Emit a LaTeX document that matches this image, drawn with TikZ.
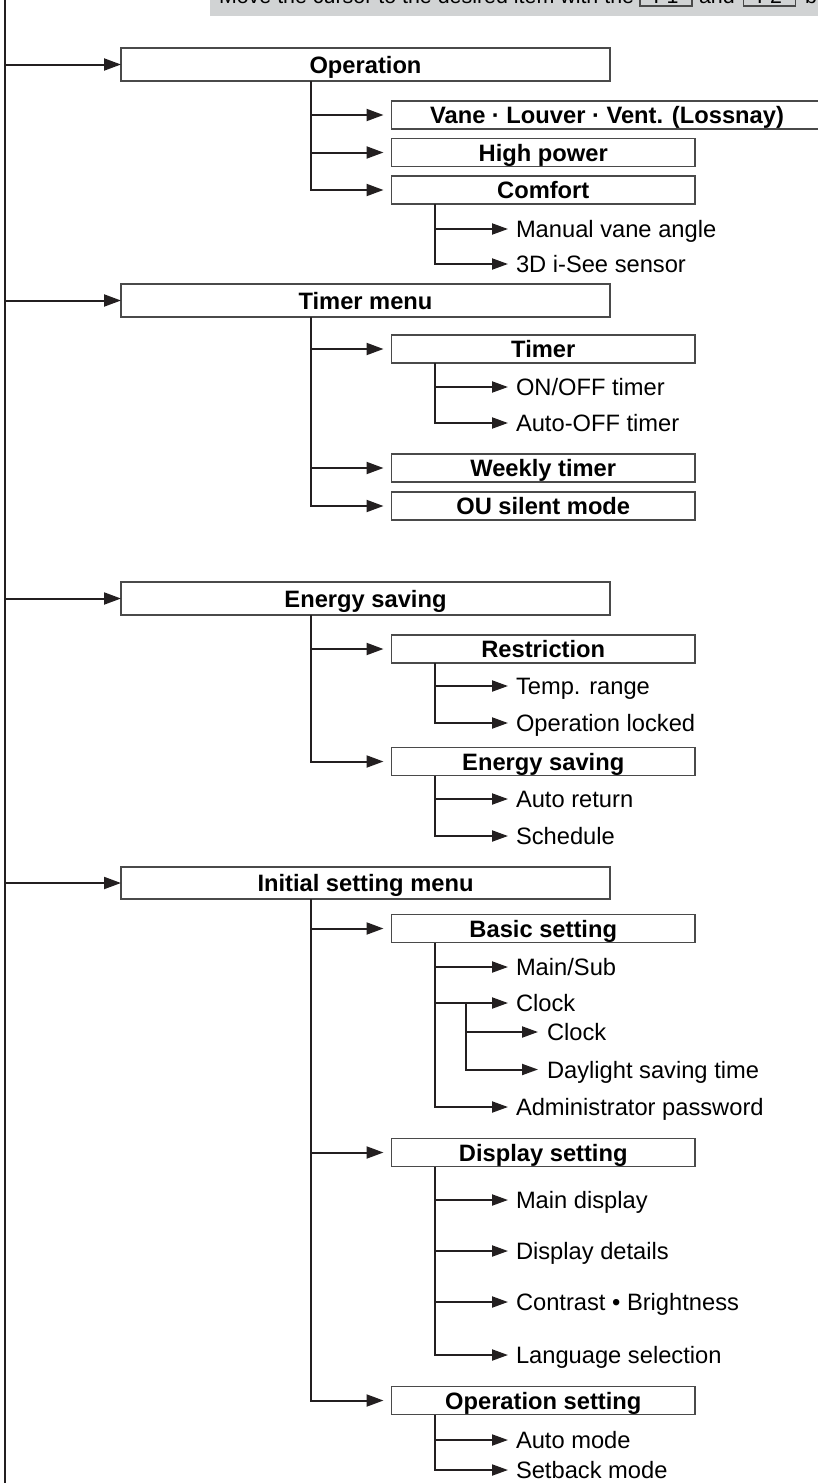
\documentclass[tikz,border=0pt]{standalone}
\usepackage{fontspec}
\setmainfont{Liberation Sans}
\usetikzlibrary{arrows.meta}
\definecolor{ink}{HTML}{231F20}
\definecolor{boxline}{HTML}{4A4A4A}
\definecolor{band}{HTML}{D1D3D4}
\tikzset{
  every node/.style={inner sep=0pt, outer sep=0pt},
  bigfont/.style={font=\fontsize{23.7}{28}\selectfont},
  lbox/.style={draw=boxline, line width=1.3pt, fill=white, minimum width=489pt,
    minimum height=33pt, text height=17pt, text depth=0pt,
    font=\fontsize{23.7}{28}\selectfont\bfseries, anchor=north west},
  sbox/.style={lbox, minimum width=303.5pt, minimum height=28pt},
  item/.style={anchor=west, text height=17pt, text depth=0pt, bigfont},
  conn/.style={draw=ink, line width=2pt},
  arr/.style={conn, -{Triangle[length=17pt,width=12pt]}},
  arrb/.style={arr, shorten >=8pt},
  arrc/.style={conn, -{Triangle[length=16pt,width=11pt]}, shorten >=8pt},
  arrd/.style={conn, -{Triangle[length=16pt,width=11pt]}, shorten >=9pt},
  keybox/.style={draw=boxline, line width=1.2pt, minimum width=52pt, minimum height=17.5pt,
    anchor=south west, text height=15pt, text depth=2.5pt, font=\fontsize{21.4}{26}\selectfont},
  hdr/.style={anchor=base west, font=\fontsize{21.4}{26}\selectfont}
}
\begin{document}
\begin{tikzpicture}[x=1pt,y=-1pt]
\useasboundingbox (0,0) rectangle (818,1483);
% header band
\fill[band] (210,-30) rectangle (840,16);
\node[hdr] (h1) at (219,3.5) {Move the cursor to the desired item with the};
\node[keybox] (f1) at (640,6) {F1};
\node[hdr] (h2) at (699,3.5) {and};
\node[keybox] (f2) at (743.5,6) {F2};
\node[hdr] (h3) at (805,3.5) {buttons.};

% branch x positions
\coordinate (L0) at (5,0);
\coordinate (Lend) at (5,1483);
\coordinate (L1) at (310.5,0);
\coordinate (L2) at (435,0);
\coordinate (L3) at (466,0);

% level 1 boxes
\node[lbox] (op) at (121,48) {Operation};
\node[lbox] (tmenu) at (121,284) {Timer menu};
\node[lbox] (energy) at (121,582) {Energy saving};
\node[lbox, minimum height=32pt] (init) at (121,867) {Initial setting menu};

% level 2 boxes
\node[sbox, minimum width=431pt] (vane) at (391.5,101) {Vane · Louver · Vent. (Lossnay)};
\node[sbox] (high) at (391.5,138.5) {High power};
\node[sbox] (comfort) at (391.5,176) {Comfort};
\node[sbox] (timer) at (391.5,335) {Timer};
\node[sbox] (weekly) at (391.5,454) {Weekly timer};
\node[sbox] (silent) at (391.5,492) {OU silent mode};
\node[sbox] (restr) at (391.5,635) {Restriction};
\node[sbox] (esave) at (391.5,747.5) {Energy saving};
\node[sbox] (basic) at (391.5,914.5) {Basic setting};
\node[sbox] (display) at (391.5,1138.5) {Display setting};
\node[sbox] (opset) at (391.5,1386.5) {Operation setting};

% level 3 items
\node[item] (manual) at (516,229) {Manual vane angle};
\node[item] (isee) at (516,264) {3D i-See sensor};
\node[item] (onoff) at (516,387) {ON/OFF timer};
\node[item] (autooff) at (516,423) {Auto-OFF timer};
\node[item] (temp) at (516,686) {Temp. range};
\node[item] (locked) at (516,723) {Operation locked};
\node[item] (autoret) at (516,799) {Auto return};
\node[item] (sched) at (516,836) {Schedule};
\node[item] (mainsub) at (516,967) {Main/Sub};
\node[item] (clock) at (516,1003) {Clock};
\node[item] (clockb) at (547,1032) {Clock};
\node[item] (dst) at (547,1069.5) {Daylight saving time};
\node[item] (admin) at (516,1107) {Administrator password};
\node[item] (maindisp) at (516,1200) {Main display};
\node[item] (details) at (516,1251) {Display details};
\node[item] (contrast) at (516,1302) {Contrast • Brightness};
\node[item] (lang) at (516,1355) {Language selection};
\node[item] (automode) at (516,1440) {Auto mode};
\node[item] (setback) at (516,1470) {Setback mode};

% main spine
\draw[conn] (L0) -- (Lend);
\draw[arr] (L0 |- op.west) -- (op.west);
\draw[arr] (L0 |- tmenu.west) -- (tmenu.west);
\draw[arr] (L0 |- energy.west) -- (energy.west);
\draw[arr] (L0 |- init.west) -- (init.west);

% Operation
\draw[arrb] (L1 |- op.south) |- (comfort.west);
\draw[arrb] (L1 |- vane.west) -- (vane.west);
\draw[arrb] (L1 |- high.west) -- (high.west);
\draw[arrc] (L2 |- comfort.south) |- (isee.west);
\draw[arrc] (L2 |- manual.west) -- (manual.west);

% Timer menu
\draw[arrb] (L1 |- tmenu.south) |- (silent.west);
\draw[arrb] (L1 |- timer.west) -- (timer.west);
\draw[arrb] (L1 |- weekly.west) -- (weekly.west);
\draw[arrc] (L2 |- timer.south) |- (autooff.west);
\draw[arrc] (L2 |- onoff.west) -- (onoff.west);

% Energy saving
\draw[arrb] (L1 |- energy.south) |- (esave.west);
\draw[arrb] (L1 |- restr.west) -- (restr.west);
\draw[arrc] (L2 |- restr.south) |- (locked.west);
\draw[arrc] (L2 |- temp.west) -- (temp.west);
\draw[arrc] (L2 |- esave.south) |- (sched.west);
\draw[arrc] (L2 |- autoret.west) -- (autoret.west);

% Initial setting menu
\draw[arrb] (L1 |- init.south) |- (opset.west);
\draw[arrb] (L1 |- basic.west) -- (basic.west);
\draw[arrb] (L1 |- display.west) -- (display.west);
\draw[arrc] (L2 |- basic.south) |- (admin.west);
\draw[arrc] (L2 |- mainsub.west) -- (mainsub.west);
\draw[arrc] (L2 |- clock.west) -- (clock.west);
\draw[arrd] (L3 |- clock.west) |- (dst.west);
\draw[arrd] (L3 |- clockb.west) -- (clockb.west);
\draw[arrc] (L2 |- display.south) |- (lang.west);
\draw[arrc] (L2 |- maindisp.west) -- (maindisp.west);
\draw[arrc] (L2 |- details.west) -- (details.west);
\draw[arrc] (L2 |- contrast.west) -- (contrast.west);
\draw[arrc] (L2 |- opset.south) |- (setback.west);
\draw[arrc] (L2 |- automode.west) -- (automode.west);
\end{tikzpicture}
\end{document}
